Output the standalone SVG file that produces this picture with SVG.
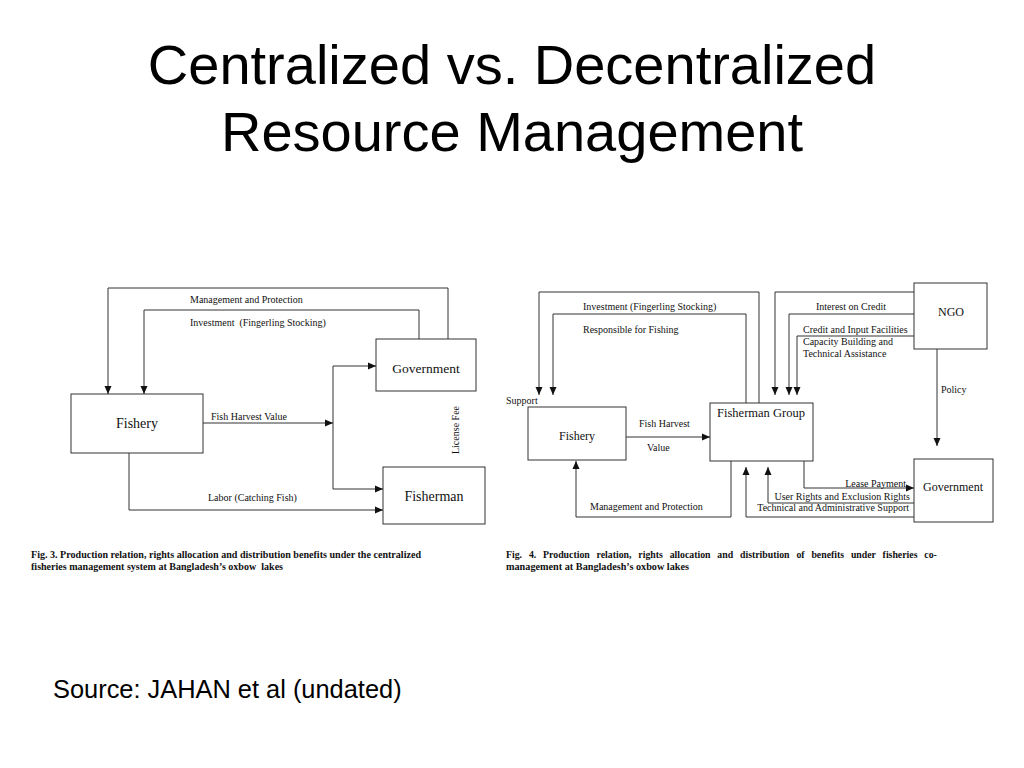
<svg xmlns="http://www.w3.org/2000/svg" width="1024" height="768" viewBox="0 0 1024 768">
<defs>
<marker id="ah" markerUnits="userSpaceOnUse" markerWidth="9" markerHeight="8" refX="8" refY="4" orient="auto">
<path d="M0,0.5 L8,4 L0,7.5 z" fill="#111"/>
</marker>
<style>
.box{fill:#fff;stroke:#333;stroke-width:1}
.ln{fill:none;stroke:#333;stroke-width:1}
.ar{marker-end:url(#ah)}
.title{font-family:"Liberation Sans",Arial,sans-serif;font-size:56px;fill:#000;text-anchor:middle}
.src{font-family:"Liberation Sans",Arial,sans-serif;font-size:25.4px;fill:#000}
.nl{font-family:"Liberation Serif","Times New Roman",serif;fill:#111;text-anchor:middle}
.lb{font-family:"Liberation Serif","Times New Roman",serif;font-size:10px;fill:#111}
.cap{font-family:"Liberation Serif","Times New Roman",serif;font-size:9.8px;font-weight:bold;fill:#111}
</style>
</defs>
<rect width="1024" height="768" fill="#fff"/>
<text class="title" x="512" y="84">Centralized vs. Decentralized</text>
<text class="title" x="512" y="151">Resource Management</text>

<!-- Left diagram nodes -->
<g id="l-fishery"><rect class="box" x="71" y="394" width="132" height="59"/><text class="nl" x="137" y="428" font-size="14">Fishery</text></g>
<g id="l-government"><rect class="box" x="376" y="339" width="100" height="52"/><text class="nl" x="426" y="373" font-size="13.5">Government</text></g>
<g id="l-fisherman"><rect class="box" x="383" y="467" width="102" height="57"/><text class="nl" x="434" y="501" font-size="14">Fisherman</text></g>

<!-- Right diagram nodes -->
<g id="r-fishery"><rect class="box" x="528" y="407" width="98" height="53"/><text class="nl" x="577" y="440" font-size="12">Fishery</text></g>
<g id="r-fisherman-group"><rect class="box" x="710" y="403" width="103" height="58"/><text class="nl" x="761" y="417" font-size="12.5">Fisherman Group</text></g>
<g id="r-ngo"><rect class="box" x="914" y="283" width="73" height="66"/><text class="nl" x="951" y="316" font-size="12">NGO</text></g>
<g id="r-government"><rect class="box" x="914" y="459" width="79" height="63"/><text class="nl" x="953" y="491" font-size="12">Government</text></g>

<g id="connectors">
<!-- left -->
<path class="ln ar" d="M448,339 V288 H108 V394"/>
<path class="ln ar" d="M419,339 V310 H144 V394"/>
<path class="ln ar" d="M203,423 H333"/>
<path class="ln" d="M333,366 V489"/>
<path class="ln ar" d="M333,366 H376"/>
<path class="ln ar" d="M333,489 H383"/>
<path class="ln ar" d="M129,453 V510 H383"/>
<!-- right -->
<path class="ln ar" d="M759,403 V292 H539 V395"/>
<path class="ln ar" d="M746,403 V314 H553 V395"/>
<path class="ln ar" d="M626,437 H710"/>
<path class="ln ar" d="M731,461 V517 H576 V461"/>
<path class="ln ar" d="M914,292 H775 V395"/>
<path class="ln ar" d="M914,314 H789 V395"/>
<path class="ln ar" d="M914,336 H797 V395"/>
<path class="ln ar" d="M937,349 V446"/>
<path class="ln ar" d="M804,461 V488 H914"/>
<path class="ln ar" d="M914,503 H768 V467"/>
<path class="ln ar" d="M914,517 H746 V467"/>
</g>

<g id="labels">
<text class="lb" x="190" y="303">Management and Protection</text>
<text class="lb" x="190" y="326" xml:space="preserve">Investment  (Fingerling Stocking)</text>
<text class="lb" x="211" y="420">Fish Harvest Value</text>
<text class="lb" x="208" y="501">Labor (Catching Fish)</text>
<text class="lb" text-anchor="middle" transform="translate(459,430) rotate(-90)">License Fee</text>

<text class="lb" x="583" y="310">Investment (Fingerling Stocking)</text>
<text class="lb" x="583" y="333">Responsible for Fishing</text>
<text class="lb" x="506" y="404">Support</text>
<text class="lb" x="639" y="427">Fish Harvest</text>
<text class="lb" x="647" y="451">Value</text>
<text class="lb" x="590" y="510">Management and Protection</text>
<text class="lb" x="816" y="310">Interest on Credit</text>
<text class="lb" x="803" y="333">Credit and Input Facilities</text>
<text class="lb" x="803" y="345">Capacity Building and</text>
<text class="lb" x="803" y="357">Technical Assistance</text>
<text class="lb" x="941" y="393">Policy</text>
<text class="lb" x="906" y="487" text-anchor="end">Lease Payment</text>
<text class="lb" x="910" y="500" text-anchor="end">User Rights and Exclusion Rights</text>
<text class="lb" x="909" y="511" text-anchor="end">Technical and Administrative Support</text>
</g>

<g id="captions">
<text class="cap" x="31" y="558" textLength="390" lengthAdjust="spacingAndGlyphs">Fig. 3. Production relation, rights allocation and distribution benefits under the centralized</text>
<text class="cap" x="31" y="570" textLength="252" lengthAdjust="spacingAndGlyphs" xml:space="preserve">fisheries management system at Bangladesh’s oxbow  lakes</text>
<text class="cap" x="506" y="558" word-spacing="4.4">Fig. 4. Production relation, rights allocation and distribution of benefits under fisheries co-</text>
<text class="cap" x="506" y="570" textLength="183" lengthAdjust="spacingAndGlyphs">management at Bangladesh’s oxbow lakes</text>
</g>

<text class="src" x="53" y="698">Source: JAHAN et al (undated)</text>
</svg>
